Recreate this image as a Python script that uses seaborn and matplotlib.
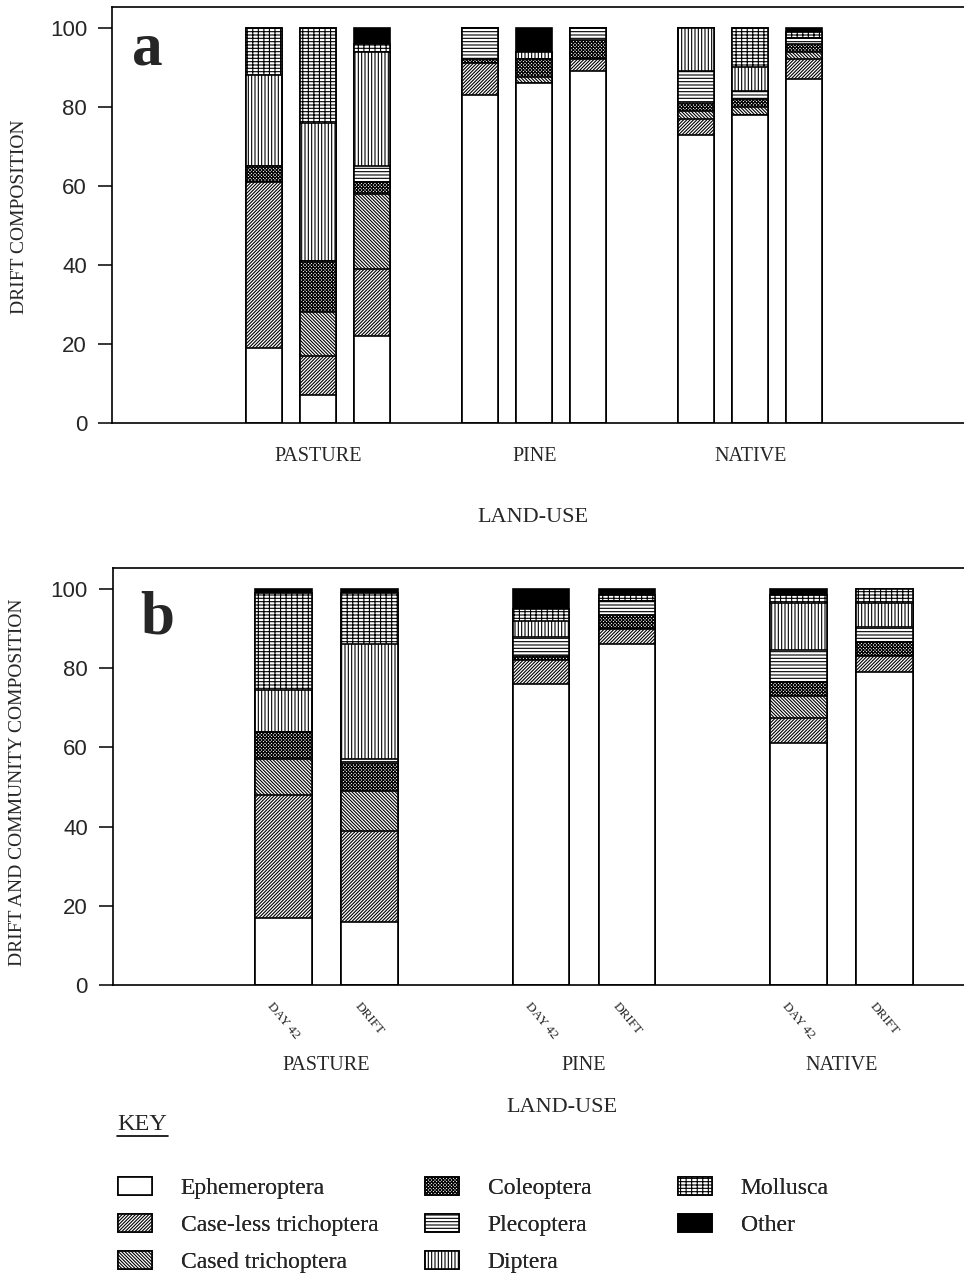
import numpy as np
import matplotlib
matplotlib.use('Agg')
import matplotlib.pyplot as plt
import matplotlib.patches as mpatches
from matplotlib.lines import Line2D
import pandas as pd
import seaborn as sns

# taxa, stacked bottom -> top
taxa = ["Ephemeroptera", "Case-less trichoptera", "Cased trichoptera", "Coleoptera",
        "Plecoptera", "Diptera", "Mollusca", "Other"]
landuse = ["PASTURE", "PINE", "NATIVE"]
samples_b = ["DAY 42", "DRIFT"]

# panel a : drift composition (%), 3 drift samples per land-use
a_ephem    = [19, 7, 22, 83, 86, 89, 73, 78, 87]
a_caseless = [42, 10, 17, 8, 0, 3, 4, 0, 5]
a_cased    = [0, 11, 19, 0, 1.5, 0, 2, 2, 2]
a_coleo    = [4, 13, 3, 1, 4.5, 5, 2, 2, 2]
a_pleco    = [0, 0, 4, 8, 0, 3, 8, 2, 1.5]
a_diptera  = [23, 35, 29, 0, 2, 0, 11, 6, 0]
a_mollusca = [12, 24, 2, 0, 0, 0, 0, 10, 1.5]
a_other    = [0, 0, 4, 0, 6, 0, 0, 0, 1]

# panel b : day 42 community vs drift (%), per land-use
b_ephem    = [17, 16, 76, 86, 61, 79]
b_caseless = [31, 23, 6, 4, 6.5, 4]
b_cased    = [9, 10, 0, 0, 5.5, 0]
b_coleo    = [7, 7, 1, 3.5, 3.5, 3.5]
b_pleco    = [0, 1, 5, 3.5, 8, 4]
b_diptera  = [10.5, 29, 4, 0, 12, 6]
b_mollusca = [24.5, 13, 3, 1.5, 2, 3.5]
b_other    = [1, 1, 5, 1.5, 1.5, 0]

hatches = ['', '/' * 10, '\\' * 10, 'x' * 10, '-' * 5, '|' * 5, '+++--', '']
faces = ['white'] * 7 + ['black']
SERIF = 'Liberation Serif'


def stack_bars(ax, xpos, layers, width):
  tops = np.cumsum(np.array(layers, dtype=float), axis=0)
  # draw tallest cumulative first, lower layers cover it
  for i in range(len(taxa) - 1, -1, -1):
    d = pd.DataFrame({'x': xpos, 'y': tops[i]})
    sns.barplot(data=d, x='x', y='y', native_scale=True, width=width,
                color=faces[i], hatch=hatches[i], edgecolor='black',
                linewidth=1.2, errorbar=None, saturation=1, ax=ax)


def style_axes(ax):
  ax.set_ylim(0, 105.3)
  ax.set_yticks([0, 20, 40, 60, 80, 100])
  ax.tick_params(axis='y', length=10, width=1.3, labelsize=16, pad=8)
  for s in ['left', 'top', 'bottom']:
    ax.spines[s].set_visible(True)
    ax.spines[s].set_linewidth(1.2)
    ax.spines[s].set_color('black')
  ax.spines['right'].set_visible(False)
  for lab in ax.get_yticklabels():
    lab.set_fontfamily('Liberation Sans')


def plotGraphs():
  sns.set_style("ticks")
  plt.rcParams['font.family'] = ['Liberation Sans', 'DejaVu Sans']
  plt.rcParams['hatch.linewidth'] = 0.8

  fig = plt.figure(figsize=(9.64, 12.79), dpi=100)

  # ---- panel a
  ax1 = fig.add_axes([0.1162, 0.6693, 0.8838, 0.3253])
  pos_a = [0, 1, 2, 4, 5, 6, 8, 9, 10]
  layers_a = [a_ephem, a_caseless, a_cased, a_coleo, a_pleco, a_diptera, a_mollusca, a_other]
  stack_bars(ax1, pos_a, layers_a, 0.67)
  ax1.set_xlim(-2.82, 12.96)
  style_axes(ax1)
  ax1.set_xticks([1, 5, 9])
  ax1.set_xticklabels(landuse, fontsize=14.5, fontfamily=SERIF)
  ax1.tick_params(axis='x', length=0, pad=17)
  ax1.set_xlabel('LAND-USE', fontsize=16, fontfamily=SERIF)
  ax1.xaxis.set_label_coords(0.494, -0.205)
  ax1.set_ylabel('DRIFT COMPOSITION', fontsize=14, fontfamily=SERIF)
  ax1.yaxis.set_label_coords(-0.099, 0.495)
  ax1.text(0.024, 0.861, 'a', transform=ax1.transAxes, fontsize=44,
           fontweight='bold', fontfamily=SERIF, va='baseline')

  # ---- panel b
  ax2 = fig.add_axes([0.1172, 0.2299, 0.8828, 0.326])
  pos_b = [0, 1, 3, 4, 6, 7]
  layers_b = [b_ephem, b_caseless, b_cased, b_coleo, b_pleco, b_diptera, b_mollusca, b_other]
  stack_bars(ax2, pos_b, layers_b, 0.66)
  ax2.set_xlim(-1.99, 7.93)
  style_axes(ax2)
  ax2.set_xticks(pos_b)
  ax2.set_xticklabels(samples_b * 3, fontsize=9.5, fontfamily=SERIF, rotation=-50)
  ax2.tick_params(axis='x', length=0, pad=11)
  for k, name in enumerate(landuse):
    ax2.text(pos_b[2 * k] + 0.5, -0.194, name, transform=ax2.get_xaxis_transform(),
             ha='center', va='center', fontsize=14.5, fontfamily=SERIF)
  ax2.set_xlabel('LAND-USE', fontsize=16, fontfamily=SERIF)
  ax2.xaxis.set_label_coords(0.528, -0.272)
  ax2.set_ylabel('DRIFT AND COMMUNITY COMPOSITION', fontsize=14, fontfamily=SERIF)
  ax2.yaxis.set_label_coords(-0.102, 0.487)
  ax2.text(0.032, 0.844, 'b', transform=ax2.transAxes, fontsize=44,
           fontweight='bold', fontfamily=SERIF, va='baseline')

  # ---- key
  fig.text(117 / 964, 1 - 1124 / 1279, 'KEY', fontsize=17.5, fontfamily=SERIF, va='center')
  fig.add_artist(Line2D([117 / 964, 168 / 964], [1 - 1136 / 1279] * 2,
                        transform=fig.transFigure, color='black', lw=1.2))
  handles = [mpatches.Patch(facecolor=faces[i], edgecolor='black', hatch=hatches[i],
                            linewidth=1.2, label=taxa[i]) for i in range(len(taxa))]
  cols = [(handles[0:3], 118), (handles[3:6], 425), (handles[6:8], 678)]
  for hs, x0 in cols:
    leg = fig.legend(handles=hs, loc='upper left', bbox_to_anchor=(x0 / 964, 1 - 1177 / 1279),
                     frameon=False, borderpad=0, borderaxespad=0,
                     handlelength=1.45, handleheight=0.77, handletextpad=1.2,
                     labelspacing=0.64, prop={'family': SERIF, 'size': 17})
    fig.add_artist(leg)

  plt.savefig('out.png', dpi=100)


if __name__ == "__main__":
  plotGraphs()
